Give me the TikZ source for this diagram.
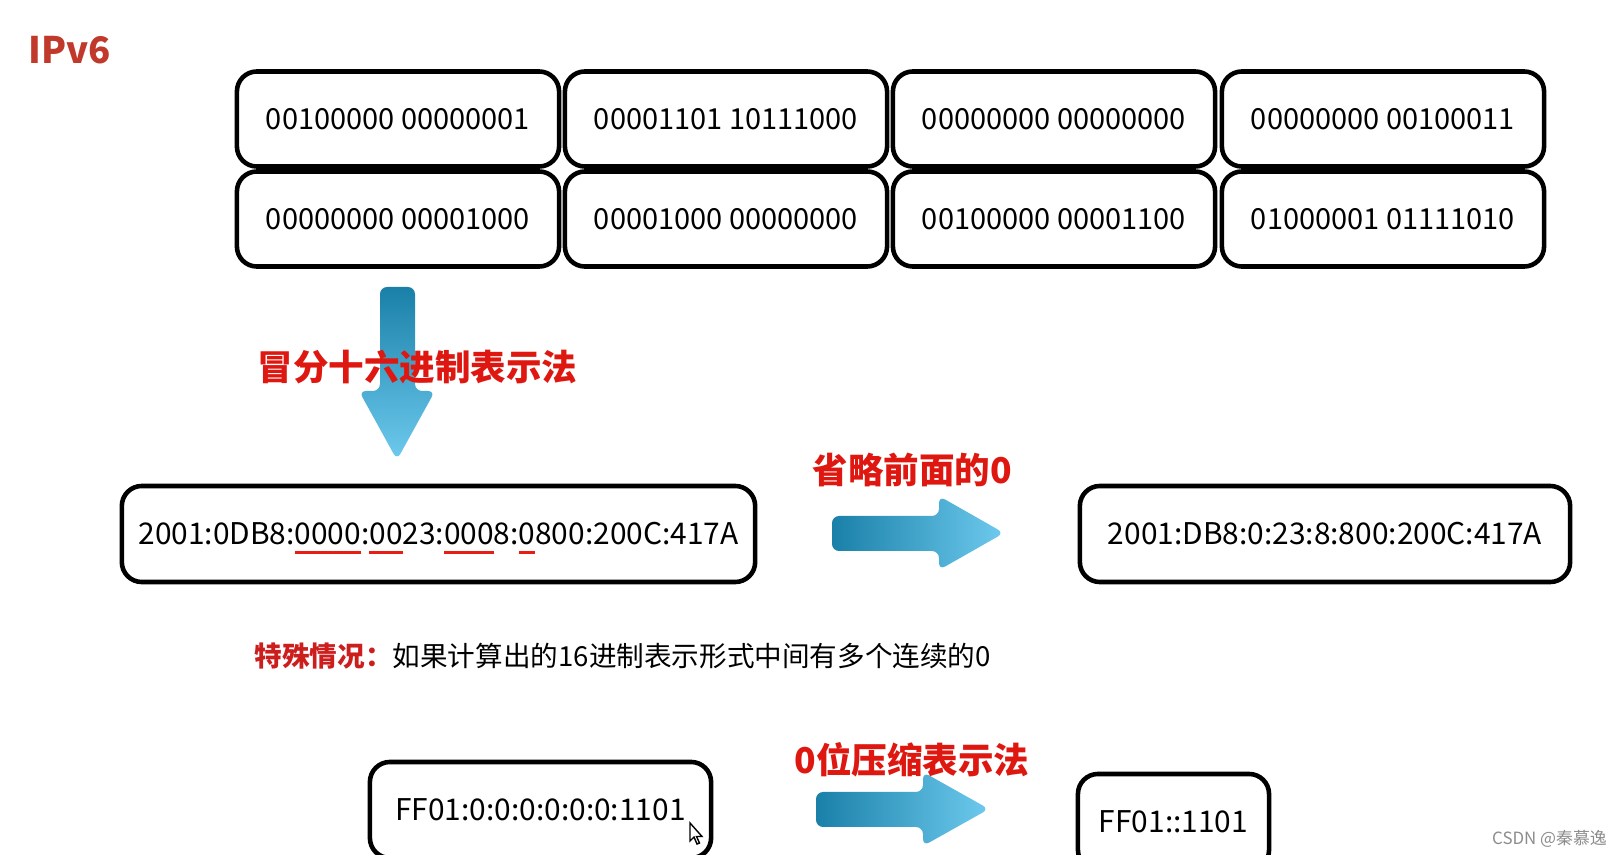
\documentclass[tikz,border=0pt]{standalone}
\usepackage{fontspec}
\setmainfont{Noto Sans CJK SC}
\definecolor{titlered}{RGB}{192,57,43}
\definecolor{labelred}{RGB}{222,24,16}
\definecolor{notered}{RGB}{205,30,30}
\definecolor{ulred}{RGB}{232,30,20}
\definecolor{arrowdark}{RGB}{26,128,168}
\definecolor{arrowlight}{RGB}{110,202,238}
\newsavebox\zerobox
\newcommand\zerol[1]{\sbox\zerobox{#1}\rlap{\smash{\color{ulred}\rule[-2.6pt]{\wd\zerobox}{0.9pt}}}\usebox\zerobox}
\tikzset{
 bitbox/.style={draw,line width=1.3pt,rounded corners=0.2cm,minimum width=3.22cm,minimum height=0.95cm,font=\fontsize{8.25}{10}\selectfont},
 addrbox/.style={bitbox,minimum height=0.96cm,font=\fontsize{8.5}{10}\selectfont},
 redlabel/.style={inner sep=0pt,text=labelred,font=\fontsize{10.1}{12}\selectfont\bfseries},
 blockarrow/.style={rounded corners=2pt}
}
\begin{document}
\begin{tikzpicture}[x=0.01cm,y=-0.01cm]
 \useasboundingbox (0,0) rectangle (1614,855);
 \clip (0,0) rectangle (1614,855);
 \node[anchor=west,inner sep=0pt,text=titlered,font=\fontsize{10.4}{12}\selectfont\bfseries] (title) at (28,50) {IPv6};
 % 128 bits, 8 groups
 \node[bitbox] (b11) at (398,119) {00100000 00000001};
 \node[bitbox] (b12) at (726,119) {00001101 10111000};
 \node[bitbox] (b13) at (1054,119) {00000000 00000000};
 \node[bitbox] (b14) at (1383,119) {00000000 00100011};
 \node[bitbox] (b21) at (398,219) {00000000 00001000};
 \node[bitbox] (b22) at (726,219) {00001000 00000000};
 \node[bitbox] (b23) at (1054,219) {00100000 00001100};
 \node[bitbox] (b24) at (1383,219) {01000001 01111010};
 % block arrows
 \shade[blockarrow,top color=arrowdark,bottom color=arrowlight] (380,287)--(415,287)--(415,391)--(435,391)--(397,460)--(359,391)--(380,391)--cycle;
 \shade[blockarrow,left color=arrowdark,right color=arrowlight] (832,516)--(939,516)--(939,496)--(1004,533)--(939,570)--(939,551)--(832,551)--cycle;
 \shade[blockarrow,left color=arrowdark,right color=arrowlight] (816,792)--(923,792)--(923,772)--(989,809)--(923,846)--(923,827)--(816,827)--cycle;
 \node[redlabel] (hexnote) at (417.5,367) {冒分十六进制表示法};
 \node[redlabel] (dropnote) at (912.5,469.5) {省略前面的0};
 \node[redlabel] (zipnote) at (912,760) {0位压缩表示法};
 % hex forms
 \node[addrbox,minimum width=6.33cm] (hexfull) at (438.5,534) {2001:0DB8:\zerol{0000}:\zerol{00}23:\zerol{000}8:\zerol{0}800:200C:417A};
 \node[addrbox,minimum width=4.9cm] (hexshort) at (1325,534) {2001:DB8:0:23:8:800:200C:417A};
 \node[anchor=west,inner sep=0pt,font=\fontsize{7.85}{10}\selectfont] (special) at (254,656) {\textcolor{notered}{\bfseries 特殊情况：}如果计算出的16进制表示形式中间有多个连续的0};
 \node[addrbox,minimum width=3.41cm] (zeros) at (540.5,810) {FF01:0:0:0:0:0:0:1101};
 \node[addrbox,minimum width=1.91cm] (zipped) at (1173.5,822) {FF01::1101};
 % mouse pointer
 \filldraw[fill=white,draw=black,line width=0.4pt] (690,823)--(690,841)--(694,837)--(697,844)--(699.5,843)--(696.5,836.5)--(702,836.5)--cycle;
 \node[inner sep=0pt,text=black!45,font=\fontsize{4.8}{6}\selectfont] (mark) at (1549.5,839) {CSDN @秦慕逸};
\end{tikzpicture}
\end{document}
